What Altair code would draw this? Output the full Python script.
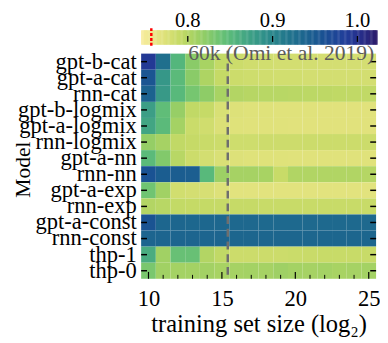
import altair as alt
import pandas as pd
import numpy as np

models = ["gpt-b-cat", "gpt-a-cat", "rnn-cat", "gpt-b-logmix", "gpt-a-logmix",
          "rnn-logmix", "gpt-a-nn", "rnn-nn", "gpt-a-exp", "rnn-exp",
          "gpt-a-const", "rnn-const", "thp-1", "thp-0"]
sizes = list(range(10, 26))

v_gpt_b_cat = [0.990, 0.925, 0.853, 0.822, 0.806, 0.791, 0.785, 0.782, 0.781, 0.780, 0.780, 0.780, 0.779, 0.779, 0.779, 0.779]
v_gpt_a_cat = [0.955, 0.882, 0.848, 0.822, 0.803, 0.790, 0.785, 0.783, 0.782, 0.781, 0.781, 0.780, 0.780, 0.780, 0.780, 0.780]
v_rnn_cat = [0.940, 0.880, 0.850, 0.832, 0.820, 0.806, 0.800, 0.798, 0.797, 0.797, 0.796, 0.795, 0.794, 0.793, 0.792, 0.792]
v_gpt_b_logmix = [0.875, 0.845, 0.815, 0.792, 0.789, 0.776, 0.772, 0.771, 0.771, 0.770, 0.770, 0.770, 0.769, 0.769, 0.769, 0.769]
v_gpt_a_logmix = [0.868, 0.848, 0.808, 0.786, 0.782, 0.774, 0.771, 0.770, 0.770, 0.770, 0.769, 0.769, 0.769, 0.769, 0.769, 0.769]
v_rnn_logmix = [0.816, 0.807, 0.792, 0.789, 0.787, 0.785, 0.783, 0.783, 0.784, 0.784, 0.784, 0.785, 0.785, 0.785, 0.785, 0.785]
v_gpt_a_nn = [0.848, 0.826, 0.797, 0.785, 0.780, 0.775, 0.772, 0.771, 0.771, 0.771, 0.770, 0.770, 0.770, 0.770, 0.770, 0.770]
v_rnn_nn = [0.958, 0.946, 0.946, 0.945, 0.850, 0.812, 0.807, 0.807, 0.806, 0.788, 0.801, 0.801, 0.801, 0.801, 0.801, 0.799]
v_gpt_a_exp = [0.835, 0.810, 0.781, 0.779, 0.777, 0.772, 0.768, 0.768, 0.768, 0.768, 0.768, 0.768, 0.768, 0.768, 0.768, 0.768]
v_rnn_exp = [0.800, 0.797, 0.791, 0.790, 0.790, 0.789, 0.789, 0.789, 0.788, 0.788, 0.788, 0.788, 0.788, 0.788, 0.788, 0.788]
v_gpt_a_const = [0.957, 0.935, 0.935, 0.934, 0.934, 0.934, 0.933, 0.933, 0.932, 0.932, 0.932, 0.932, 0.932, 0.932, 0.932, 0.932]
v_rnn_const = [0.936, 0.936, 0.936, 0.936, 0.936, 0.936, 0.935, 0.935, 0.935, 0.935, 0.935, 0.935, 0.935, 0.935, 0.935, 0.935]
v_thp_1 = [0.862, 0.810, 0.840, 0.840, 0.800, 0.792, 0.785, 0.785, 0.785, 0.785, 0.786, 0.787, 0.788, 0.788, 0.788, 0.788]
v_thp_0 = [0.830, 0.810, 0.808, 0.808, 0.809, 0.806, 0.807, 0.808, 0.807, 0.811, 0.808, 0.807, 0.808, 0.806, 0.807, 0.808]

rows = [v_gpt_b_cat, v_gpt_a_cat, v_rnn_cat, v_gpt_b_logmix, v_gpt_a_logmix,
        v_rnn_logmix, v_gpt_a_nn, v_rnn_nn, v_gpt_a_exp, v_rnn_exp,
        v_gpt_a_const, v_rnn_const, v_thp_1, v_thp_0]

cb_min, cb_max = 0.745, 1.022
cb_ticks = [0.8, 0.9, 1.0]
cb_labels = ["0.8", "0.9", "1.0"]
red_mark = 0.757
ref_size = 15.4
ref_label = "60k (Omi et al. 2019)"

color_domain = [0.745, 0.770, 0.790, 0.805, 0.820, 0.835, 0.850, 0.870, 0.890, 0.915, 0.940, 0.960, 0.985, 1.005, 1.022]
color_range = ["#f7ec9d", "#e0e27b", "#c5da66", "#aad363", "#8ecc67", "#70c472", "#58b97b",
               "#40a384", "#2f8f8a", "#22778c", "#1c628f", "#1a5093", "#213e9a", "#272c88", "#2c1d6b"]

df = pd.DataFrame([{"model": m, "size": s, "acc": v}
                   for m, r in zip(models, rows) for s, v in zip(sizes, r)])

W, H = 240, 230
FONT = "Liberation Serif"
FS = 23

color_scale = alt.Scale(domain=color_domain, range=color_range, interpolate="rgb")
xs = alt.Scale(domain=[9.5, 25.5], nice=False, zero=False)
ys = alt.Scale(domain=models, paddingInner=0, paddingOuter=0)
cbs = alt.Scale(domain=[cb_min, cb_max], nice=False, zero=False)

heat = alt.Chart(df).transform_calculate(
    x0="datum.size - 0.5", x1="datum.size + 0.5"
).mark_rect().encode(
    x=alt.X("x0:Q", scale=xs,
            axis=alt.Axis(values=[10, 15, 20, 25], title="training set size (log₂)",
                          domain=False, ticks=False, tickSize=0, grid=False,
                          labelPadding=9, titlePadding=2, labelFontSize=FS,
                          titleFontSize=25, labelFont=FONT, titleFont=FONT,
                          titleFontWeight="normal", labelColor="black", titleColor="black")),
    x2="x1:Q",
    y=alt.Y("model:N", scale=ys, sort=models,
            axis=alt.Axis(title="Model", domain=False, ticks=False, tickSize=0, grid=False,
                          labelPadding=5, labelFontSize=FS, titleFontSize=22,
                          labelFont=FONT, titleFont=FONT, titleFontWeight="normal",
                          labelColor="black", titleColor="black",
                          titleX=-121, titleY=H / 2 + 3, titleAngle=270,
                          titleBaseline="middle", titleAlign="center")),
    color=alt.Color("acc:Q", scale=color_scale, legend=None),
)

tick_df = pd.DataFrame({"size": sizes})
xt_major = alt.Chart(tick_df).transform_filter("datum.size % 5 == 0").mark_rule(
    color="black", strokeWidth=1.2).encode(
    x=alt.X("size:Q", scale=xs, axis=None), y=alt.value(H), y2=alt.value(H - 7))
xt_minor = alt.Chart(tick_df).transform_filter("datum.size % 5 != 0").mark_rule(
    color="black", strokeWidth=1).encode(
    x=alt.X("size:Q", scale=xs, axis=None), y=alt.value(H), y2=alt.value(H - 4))

model_df = pd.DataFrame({"model": models})
yt_left = alt.Chart(model_df).mark_rule(color="black", strokeWidth=1.5).encode(
    y=alt.Y("model:N", scale=ys, sort=models, axis=None), x=alt.value(0), x2=alt.value(6))
yt_right = alt.Chart(model_df).mark_rule(color="black", strokeWidth=1.5).encode(
    y=alt.Y("model:N", scale=ys, sort=models, axis=None), x=alt.value(W - 6), x2=alt.value(W))

ref_line = alt.Chart(pd.DataFrame({"x": [ref_size]})).mark_rule(
    color="#6e6e6e", strokeWidth=2.5, strokeDash=[8, 5]).encode(
    x=alt.X("x:Q", scale=xs, axis=None), y=alt.value(-3), y2=alt.value(H))
ref_text = alt.Chart(pd.DataFrame({"t": [ref_label]})).mark_text(
    align="right", baseline="alphabetic", font=FONT, fontSize=22, color="#5c5c5c").encode(
    text="t:N", x=alt.value(W - 2), y=alt.value(7))

# colorbar
cb_vals = np.linspace(cb_min, cb_max, 200)
step = cb_vals[1] - cb_vals[0]
cb_df = pd.DataFrame({"acc": cb_vals, "acc_hi": cb_vals + step * 1.3})
cbar = alt.Chart(cb_df).mark_rect().encode(
    x=alt.X("acc:Q", scale=cbs, axis=None), x2="acc_hi:Q",
    y=alt.value(-24), y2=alt.value(-9),
    color=alt.Color("acc:Q", scale=color_scale, legend=None))
cb_tick_df = pd.DataFrame({"v": cb_ticks, "lab": cb_labels})
cb_tick = alt.Chart(cb_tick_df).mark_rule(color="black", strokeWidth=1.3).encode(
    x=alt.X("v:Q", scale=cbs, axis=None), y=alt.value(-18), y2=alt.value(-12))
cb_text = alt.Chart(cb_tick_df).mark_text(
    baseline="alphabetic", align="center", font=FONT, fontSize=21, color="black").encode(
    x=alt.X("v:Q", scale=cbs, axis=None), y=alt.value(-27), text="lab:N")
cb_red = alt.Chart(pd.DataFrame({"v": [red_mark]})).mark_rule(
    color="red", strokeWidth=2.5, strokeDash=[3, 2]).encode(
    x=alt.X("v:Q", scale=cbs, axis=None), y=alt.value(-26), y2=alt.value(-6))

chart = alt.layer(
    heat, xt_major, xt_minor, yt_left, yt_right, ref_line, ref_text,
    cbar, cb_tick, cb_text, cb_red
).resolve_scale(x="independent").resolve_axis(y="independent").properties(
    width=W, height=H,
    autosize=alt.AutoSizeParams(type="none"),
    padding={"left": 136, "top": 43, "right": 4, "bottom": 62},
).configure_view(strokeWidth=0)

chart.save("out.html", embed_options={"renderer": "svg", "actions": False})
